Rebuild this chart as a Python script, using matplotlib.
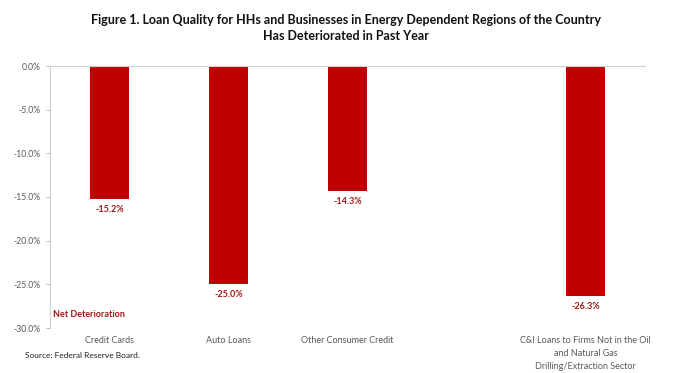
import matplotlib
matplotlib.use("Agg")
import matplotlib.pyplot as plt
from matplotlib.ticker import FuncFormatter

categories = ["Credit Cards", "Auto Loans", "Other Consumer Credit", "",
              "C&I Loans to Firms Not in the Oil\nand Natural Gas\nDrilling/Extraction Sector"]
values = [-15.2, -25.0, -14.3, None, -26.3]
yticks = [0, -5, -10, -15, -20, -25, -30]

plt.rcParams['font.family'] = ['Lato', 'DejaVu Sans']

fig = plt.figure(figsize=(6.73, 3.73), dpi=100)
ax = fig.add_axes([50/673, 1-328/373, 595/673, 262/373])

red = "#C00000"
xs = [i for i, v in enumerate(values) if v is not None]
vs = [v for v in values if v is not None]
ax.bar(xs, vs, width=0.32, color=red, zorder=2)
for x, v in zip(xs, vs):
    ax.text(x, v - 0.7, f"{v:.1f}%", ha="center", va="top", fontsize=6.5,
            fontweight="bold", color="#A01818")

ax.set_xlim(-0.5, len(categories) - 0.5)
ax.set_ylim(-30, 0)
ax.set_yticks(yticks)
ax.yaxis.set_major_formatter(FuncFormatter(lambda v, p: f"{v:.1f}%"))
ax.tick_params(axis="y", labelsize=6.2, labelcolor="#595959", color="#BFBFBF", length=3, width=0.8)
ax.tick_params(axis="x", length=0)
ax.set_xticks([])

for s in ["right", "bottom"]:
    ax.spines[s].set_visible(False)
ax.spines["left"].set_color("#D0D0D0")
ax.spines["top"].set_color("#D0D0D0")
ax.spines["left"].set_linewidth(0.8)
ax.spines["top"].set_linewidth(0.8)

for i, c in enumerate(categories):
    if c:
        ax.text(i, -30.9, c, ha="center", va="top", fontsize=6.5, color="#595959",
                linespacing=1.6)

ax.text(0.005, 0.035, "Net Deterioration", transform=ax.transAxes, fontsize=6.5,
        fontweight="bold", color="#A01818", ha="left", va="bottom")

fig.text(346/673, 1-28/373, "Figure 1. Loan Quality for HHs and Businesses in Energy Dependent Regions of the Country\nHas Deteriorated in Past Year",
         ha="center", va="center", fontsize=9, fontweight="bold", linespacing=1.5, color="#111111")
fig.text(25/673, 1-356/373, "Source: Federal Reserve Board.", fontsize=6, color="#222222",
         ha="left", va="center")

fig.savefig("out.png", dpi=100)
